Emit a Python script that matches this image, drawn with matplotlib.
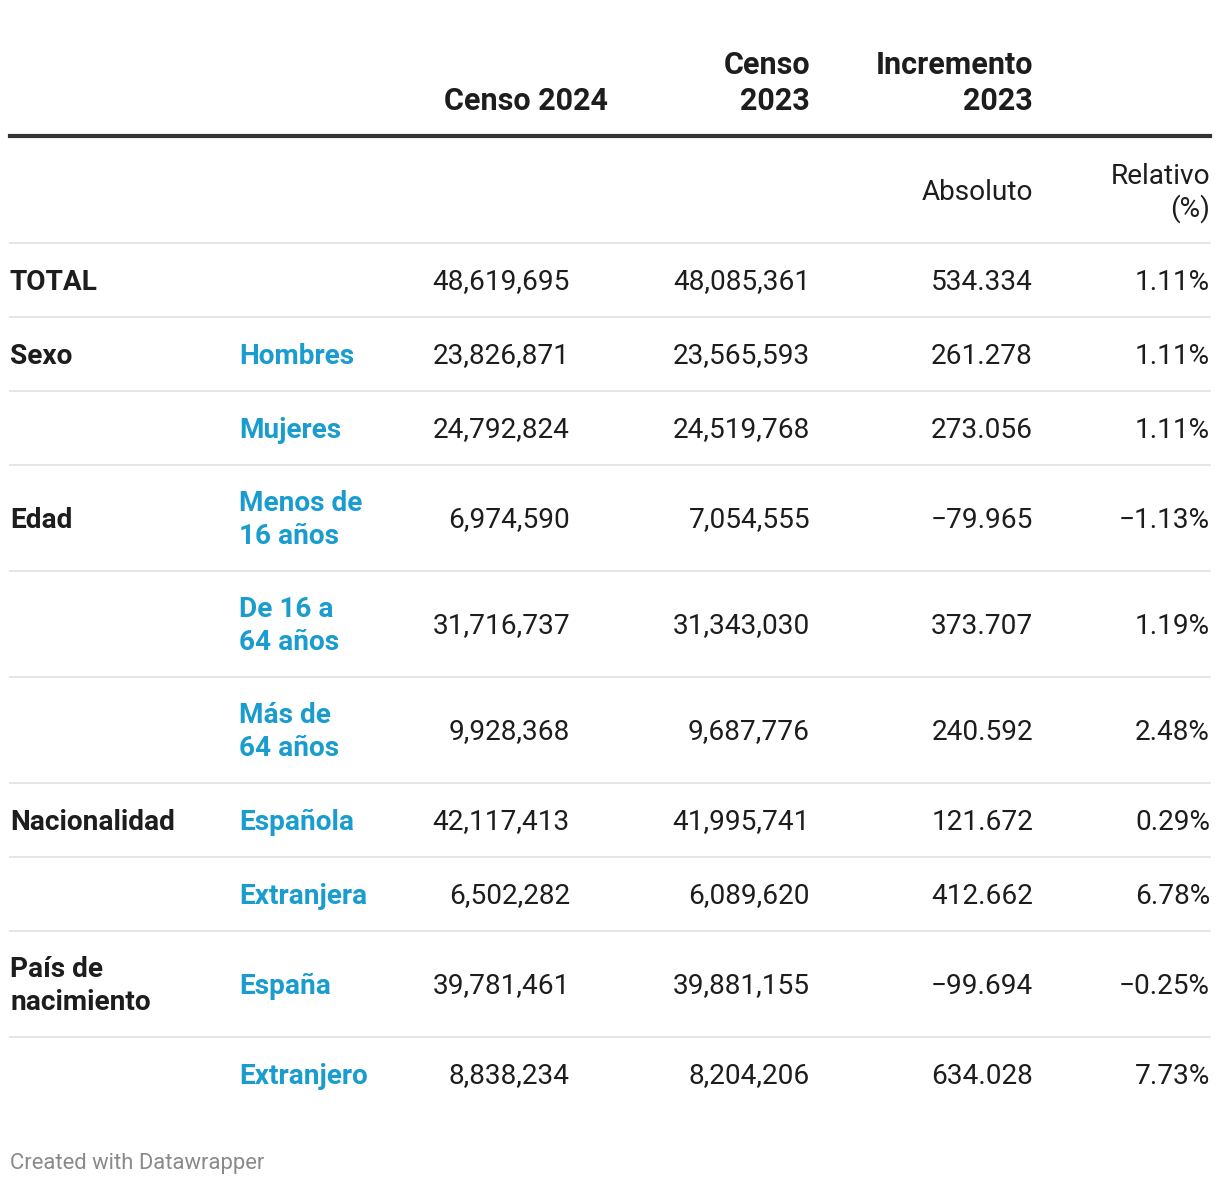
import matplotlib
matplotlib.use("Agg")
import matplotlib.pyplot as plt

plt.rcParams['font.family'] = ['Roboto', 'DejaVu Sans']

# ---- data ----
groups = ["TOTAL", "Sexo", "", "Edad", "", "", "Nacionalidad", "", "País de\nnacimiento", ""]
subcats = ["", "Hombres", "Mujeres", "Menos de\n16 años", "De 16 a\n64 años", "Más de\n64 años",
           "Española", "Extranjera", "España", "Extranjero"]
censo_2024 = [48619695, 23826871, 24792824, 6974590, 31716737, 9928368, 42117413, 6502282, 39781461, 8838234]
censo_2023 = [48085361, 23565593, 24519768, 7054555, 31343030, 9687776, 41995741, 6089620, 39881155, 8204206]
incr_abs = [534334, 261278, 273056, -79965, 373707, 240592, 121672, 412662, -99694, 634028]
incr_rel = [1.11, 1.11, 1.11, -1.13, 1.19, 2.48, 0.29, 6.78, -0.25, 7.73]

headers = ["Censo 2024", "Censo\n2023", "Incremento\n2023", ""]
subheaders = ["", "", "Absoluto", "Relativo\n(%)"]
footer = "Created with Datawrapper"

# ---- layout (pixels) ----
W, H = 1220, 1186
fig = plt.figure(figsize=(W / 100, H / 100), dpi=100)
fig.patch.set_facecolor("white")

def fy(py):
    return 1 - py / H

def fx(px):
    return px / W

TXT = "#1d1d1d"
BLUE = "#1a9ccf"
FS = 20.2
HFS = 22.0
LS_SUB = 1.19
LS_BODY = 1.26
HLS = 1.23

col_right = [570, 810, 1033, 1210]
head_right = [608, 810, 1033, 1210]

def fmt_comma(v):
    return f"{v:,}"

def fmt_abs(v):
    s = f"{abs(v):,}".replace(",", ".")
    return ("\u2212" if v < 0 else "") + s

def fmt_rel(v):
    s = f"{abs(v):.2f}%"
    return ("\u2212" if v < 0 else "") + s

# headers
for i, h in enumerate(headers):
    if h:
        fig.text(fx(head_right[i]), fy(116), h, ha="right", va="bottom", fontsize=HFS,
                 fontweight="bold", color=TXT, linespacing=HLS)

# thick rule
fig.add_artist(plt.Line2D([fx(10), fx(1210)], [fy(136), fy(136)], color="#333333", lw=3.0))

# subheaders
for i, h in enumerate(subheaders):
    if h:
        fig.text(fx(col_right[i]), fy(193), h, ha="right", va="center", fontsize=FS,
                 color=TXT, linespacing=LS_SUB)

row_tops = [243, 317, 391, 465, 571, 677, 783, 857, 931, 1037]
row_bots = row_tops[1:] + [1111]

for r in range(len(subcats)):
    top, bot = row_tops[r], row_bots[r]
    fig.add_artist(plt.Line2D([fx(10), fx(1210)], [fy(top), fy(top)], color="#e6e6e6", lw=1.4))
    cy = (top + bot) / 2 + 2
    if groups[r]:
        fig.text(fx(10), fy(cy), groups[r], ha="left", va="center", fontsize=FS,
                 fontweight="bold", color=TXT, linespacing=LS_BODY)
    if subcats[r]:
        fig.text(fx(239), fy(cy), subcats[r], ha="left", va="center", fontsize=FS,
                 fontweight="bold", color=BLUE, linespacing=LS_BODY)
    vals = [fmt_comma(censo_2024[r]), fmt_comma(censo_2023[r]), fmt_abs(incr_abs[r]), fmt_rel(incr_rel[r])]
    for c, s in enumerate(vals):
        fig.text(fx(col_right[c]), fy(cy), s, ha="right", va="center", fontsize=FS, color=TXT)

fig.text(fx(10), fy(1163), footer, ha="left", va="center", fontsize=15.8, color="#8a8a8a")

fig.savefig("out.png", dpi=100, facecolor="white")
